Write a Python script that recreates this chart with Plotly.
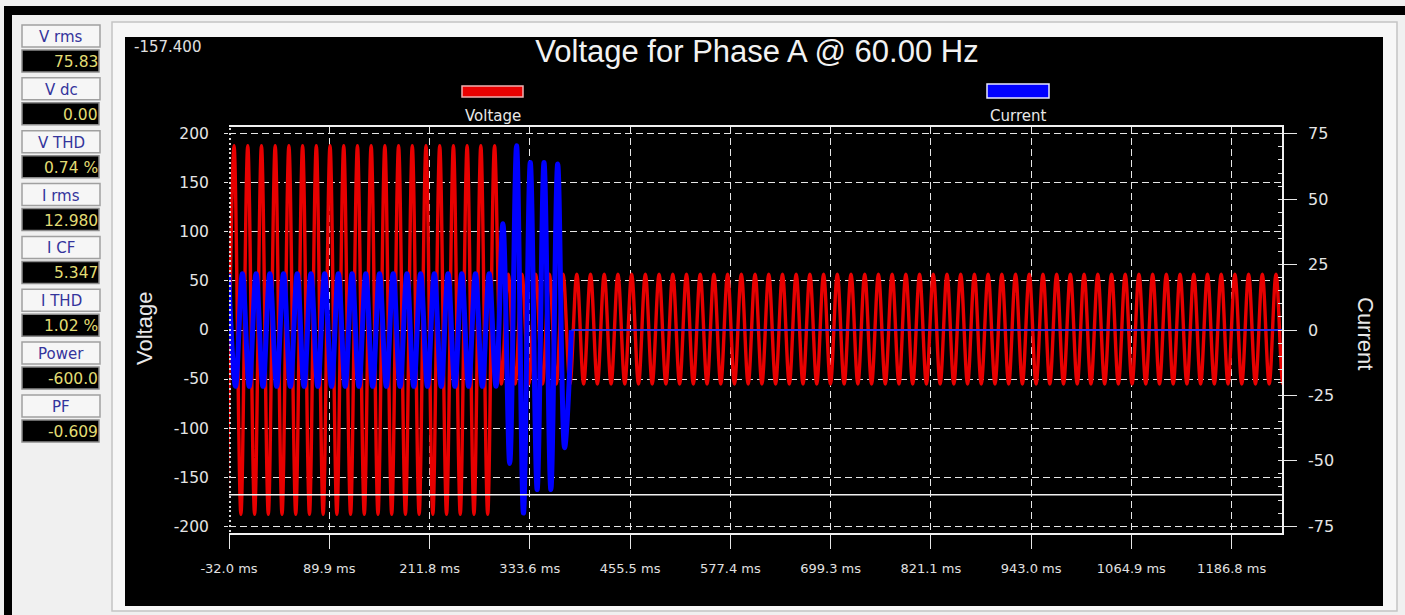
import plotly.graph_objects as go

# ---------------- data ----------------
title_text = "Voltage for Phase A @ 60.00 Hz"
cursor_readout = "-157.400"
cursor_level_v = -168.0

x_tick_vals = [-32.0, 89.9, 211.8, 333.6, 455.5, 577.4, 699.3, 821.1, 943.0, 1064.9, 1186.8]
x_tick_text = ["-32.0 ms", "89.9 ms", "211.8 ms", "333.6 ms", "455.5 ms", "577.4 ms",
               "699.3 ms", "821.1 ms", "943.0 ms", "1064.9 ms", "1186.8 ms"]
x_range_ms = [-32.0, 1248.0]

v_tick_vals = [200, 150, 100, 50, 0, -50, -100, -150, -200]
v_tick_text = ["200", "150", "100", "50", "0", "-50", "-100", "-150", "-200"]
v_range = [-207.0, 207.0]
i_tick_vals = [75, 50, 25, 0, -25, -50, -75]
i_tick_text = ["75", "50", "25", "0", "-25", "-50", "-75"]
i_range = [-77.6, 77.6]

# 60 Hz waveforms described by their successive half-cycle peaks
half_period_ms = 8.333
volt_first_peak_ms = -34.2
volt_peaks = ([-188, 188] * 20) + ([-55, 57] * 58)
curr_first_peak_ms = -32.4
curr_peaks = ([21.5, -21.5] * 20) + [40.6, -51, 70.4, -70, 64, -61, 64, -61, 63.5, -45] + ([0] * 105)
curr_trip_index = 50  # from this half-cycle on the current stays at zero

# side panel readouts
panel_labels = ["V rms", "V dc", "V THD", "I rms", "I CF", "I THD", "Power", "PF"]
panel_values = ["75.83", "0.00", "0.74 %", "12.980", "5.347", "1.02 %", "-600.0", "-0.609"]

legend_names = ["Voltage", "Current"]
legend_colors = ["#e80000", "#0000ff"]

# ---------------- layout geometry (pixels) ----------------
W, H = 1405, 615
L, R, T, B = 229, 1282, 127, 533      # plot area
PR = 1307                              # right edge of paper (where current labels start)
FONT = "Liberation Sans, Arial, sans-serif"
SMALL = "DejaVu Sans, Verdana, sans-serif"
X_DOMAIN_END = (R - L) / (PR - L)


def px(xp):
    return (xp - L) / (PR - L)


def py(yp):
    return (B - yp) / (B - T)


volt_t = [volt_first_peak_ms + k * half_period_ms for k in range(len(volt_peaks))]
curr_t = [curr_first_peak_ms + k * half_period_ms for k in range(len(curr_peaks))]

fig = go.Figure()
fig.add_trace(go.Scatter(x=volt_t, y=volt_peaks, name=legend_names[0], mode="lines",
                         line=dict(color=legend_colors[0], width=3.4, shape="spline"),
                         showlegend=False))
fig.add_trace(go.Scatter(x=curr_t[:curr_trip_index + 1], y=curr_peaks[:curr_trip_index + 1],
                         name=legend_names[1], mode="lines", yaxis="y2",
                         line=dict(color=legend_colors[1], width=5, shape="spline"),
                         showlegend=False))
# after the trip the current sits at zero (same scale, on the labelled current axis)
fig.add_trace(go.Scatter(x=curr_t[curr_trip_index:], y=curr_peaks[curr_trip_index:],
                         name=legend_names[1], mode="lines", yaxis="y3",
                         line=dict(color="#3030e0", width=2),
                         showlegend=False))

shapes = []
annotations = []

# window decorations
shapes.append(dict(type="rect", xref="paper", yref="paper", x0=px(5), x1=px(W + 5), y0=py(6), y1=py(15),
                   fillcolor="black", line_width=0, layer="below"))
shapes.append(dict(type="rect", xref="paper", yref="paper", x0=px(4), x1=px(12), y0=py(6), y1=py(H + 5),
                   fillcolor="black", line_width=0, layer="below"))
shapes.append(dict(type="rect", xref="paper", yref="paper", x0=px(112), x1=px(1397), y0=py(22), y1=py(611),
                   fillcolor="#f7f7f7", line=dict(color="#c4c4c4", width=1.5), layer="below"))
shapes.append(dict(type="rect", xref="paper", yref="paper", x0=px(125), x1=px(1383), y0=py(37), y1=py(606),
                   fillcolor="black", line_width=0, layer="below"))

# side readout boxes
step = 52.85
for i, (lab, val) in enumerate(zip(panel_labels, panel_values)):
    y0 = 25 + step * i
    shapes.append(dict(type="rect", xref="paper", yref="paper", x0=px(22), x1=px(100), y0=py(y0), y1=py(y0 + 22),
                       fillcolor="#f6f6f6", line=dict(color="#a0a0a0", width=1.5), layer="below"))
    shapes.append(dict(type="rect", xref="paper", yref="paper", x0=px(22), x1=px(99), y0=py(y0 + 25), y1=py(y0 + 47),
                       fillcolor="black", line=dict(color="#8c8c8c", width=1.5), layer="below"))
    annotations.append(dict(text=lab, xref="paper", yref="paper", x=px(61), y=py(y0 + 12), showarrow=False,
                            xanchor="center", yanchor="middle", font=dict(family=SMALL, size=15, color="#34349c")))
    annotations.append(dict(text=val, xref="paper", yref="paper", x=px(100), y=py(y0 + 37), showarrow=False,
                            xanchor="right", yanchor="middle", font=dict(family=SMALL, size=15.5, color="#e2dc74")))

# legend swatches (drawn like the instrument legend)
shapes.append(dict(type="rect", xref="paper", yref="paper", x0=px(462), x1=px(523), y0=py(86), y1=py(97),
                   fillcolor=legend_colors[0], line=dict(color="#f0b0b0", width=1.5)))
shapes.append(dict(type="rect", xref="paper", yref="paper", x0=px(987), x1=px(1049), y0=py(84), y1=py(98),
                   fillcolor=legend_colors[1], line=dict(color="#e8e8ff", width=1.5)))
annotations.append(dict(text=legend_names[0], xref="paper", yref="paper", x=px(493), y=py(116), showarrow=False,
                        xanchor="center", yanchor="middle", font=dict(family=SMALL, size=15, color="#e8e8e8")))
annotations.append(dict(text=legend_names[1], xref="paper", yref="paper", x=px(1018), y=py(116), showarrow=False,
                        xanchor="center", yanchor="middle", font=dict(family=SMALL, size=15, color="#e8e8e8")))

# cursor readout and cursor line
annotations.append(dict(text=cursor_readout, xref="paper", yref="paper", x=px(132), y=py(47), showarrow=False,
                        xanchor="left", yanchor="middle", font=dict(family=SMALL, size=15, color="#e0e0e0")))
shapes.append(dict(type="line", xref="paper", yref="y", x0=0, x1=X_DOMAIN_END, y0=cursor_level_v, y1=cursor_level_v,
                   line=dict(color="#f0f0f0", width=1.5)))

# axis titles
annotations.append(dict(text="Voltage", xref="paper", yref="paper", x=px(144), y=py(329), showarrow=False,
                        textangle=-90, xanchor="center", yanchor="middle",
                        font=dict(family=FONT, size=22, color="#e8e8e8")))
annotations.append(dict(text="Current", xref="paper", yref="paper", x=px(1366), y=py(333), showarrow=False,
                        textangle=90, xanchor="center", yanchor="middle",
                        font=dict(family=FONT, size=22, color="#e8e8e8")))

grid_dash = "7px,4px"
fig.update_layout(
    width=W, height=H,
    margin=dict(l=L, r=W - PR, t=T, b=H - B, pad=0),
    paper_bgcolor="#f0f0f0",
    plot_bgcolor="black",
    title=dict(text=title_text, x=px(757), xref="paper", xanchor="center",
               y=1 - 51 / H, yref="container", yanchor="middle",
               font=dict(family=FONT, size=31, color="#f2f2f2")),
    xaxis=dict(domain=[0, X_DOMAIN_END], range=x_range_ms, tickvals=x_tick_vals, ticktext=x_tick_text,
               showgrid=True, gridcolor="#e6e6e6", griddash=grid_dash, gridwidth=1.4,
               ticks="outside", ticklen=14, tickcolor="#e6e6e6", tickwidth=1.2,
               ticklabelstandoff=8,
               showline=True, linecolor="#f0f0f0", linewidth=1.8, mirror=True,
               zeroline=False, automargin=False,
               tickfont=dict(family=SMALL, size=13, color="#e0e0e0")),
    yaxis=dict(range=v_range, tickvals=v_tick_vals, ticktext=v_tick_text,
               showgrid=True, gridcolor="#e6e6e6", griddash=grid_dash, gridwidth=1.4,
               ticks="outside", ticklen=4, tickcolor="#e6e6e6", tickwidth=1.4,
               ticklabelstandoff=12,
               showline=False, zeroline=False, automargin=False,
               minor=dict(ticks="inside", ticklen=2, dtick=5, tickcolor="#d8d8d8", tickwidth=1.5, showgrid=False),
               tickfont=dict(family=SMALL, size=15.5, color="#e4e4e4")),
    # current axis: line and ticks at the right edge of the plot
    yaxis2=dict(range=i_range, tickvals=i_tick_vals, ticktext=i_tick_text,
                overlaying="y", side="right", anchor="x",
                showgrid=False, zeroline=False, automargin=False,
                ticks="outside", ticklen=13, tickcolor="#e6e6e6", tickwidth=1.4,
                showticklabels=False,
                showline=True, linecolor="#f0f0f0", linewidth=1.8,
                minor=dict(ticks="inside", ticklen=4, dtick=5, tickcolor="#e0e0e0", tickwidth=1.2, showgrid=False)),
    # current axis labels, set a little further right as in the instrument display
    yaxis3=dict(range=i_range, tickvals=i_tick_vals, ticktext=i_tick_text,
                overlaying="y", side="right", anchor="free", position=1.0,
                showgrid=False, zeroline=False, automargin=False, showline=False, ticks="",
                tickfont=dict(family=SMALL, size=16, color="#e4e4e4")),
    shapes=shapes,
    annotations=annotations,
    showlegend=False,
)

fig.write_html("out.html", config={"displayModeBar": False},
               post_script="document.body.style.margin='0';document.body.style.overflow='hidden';")
